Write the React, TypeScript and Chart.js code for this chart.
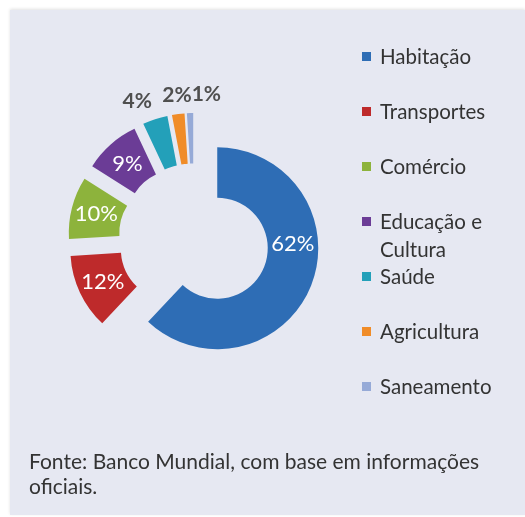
import React, { useEffect, useRef } from "react";
import { Chart, registerables } from "chart.js";

Chart.register(...registerables);

// ---- data ----
const categories = [
  "Habitação",
  "Transportes",
  "Comércio",
  "Educação e Cultura",
  "Saúde",
  "Agricultura",
  "Saneamento",
];
const shares = [62, 12, 10, 9, 4, 2, 1];
const valueLabels = ["62%", "12%", "10%", "9%", "4%", "2%", "1%"];
const sourceNote = "Fonte: Banco Mundial, com base em informações oficiais.";

// ---- style ----
const colors = ["#2E6DB5", "#BE2A2B", "#8DB33C", "#6B3C96", "#23A0B9", "#F08C28", "#96AAD7"];
const labelOutside = [false, false, false, false, true, true, true];
const labelAlong = [0.39, 0.5, 0.5, 0.5, 0.5, 0.5, 0.5];
const EXPLODE = 25;
const FONT = "Lato, 'Open Sans', sans-serif";
const PANEL_BG = "#E6E8F2";
const TEXT = "#333333";

const explodePlugin = {
  id: "explode",
  afterDatasetsUpdate(chart: any) {
    const meta = chart.getDatasetMeta(0);
    meta.data.forEach((arc: any) => {
      const mid = (arc.startAngle + arc.endAngle) / 2;
      arc.x += Math.cos(mid) * EXPLODE;
      arc.y += Math.sin(mid) * EXPLODE;
    });
  },
};

const labelPlugin = {
  id: "sliceLabels",
  afterDatasetsDraw(chart: any) {
    const ctx = chart.ctx;
    const meta = chart.getDatasetMeta(0);
    ctx.save();
    ctx.textAlign = "center";
    ctx.textBaseline = "middle";
    let prevRight = -Infinity;
    meta.data.forEach((arc: any, i: number) => {
      const { x, y, startAngle, endAngle, innerRadius, outerRadius } = arc;
      const text = valueLabels[i];
      if (!labelOutside[i]) {
        ctx.font = `22px ${FONT}`;
        const a = startAngle + (endAngle - startAngle) * labelAlong[i];
        const r = (innerRadius + outerRadius) / 2;
        ctx.fillStyle = "#FFFFFF";
        ctx.fillText(text, x + Math.cos(a) * r, y + Math.sin(a) * r);
      } else {
        ctx.font = `bold 21px ${FONT}`;
        const mid = (startAngle + endAngle) / 2;
        const c = Math.cos(mid);
        const s = Math.sin(mid);
        const w = ctx.measureText(text).width;
        const h = 18;
        const px = x + (outerRadius + 10) * c;
        const py = y + (outerRadius + 10) * s;
        let cx = px + (Math.abs(c) < 0.2 ? 0 : Math.sign(c) * w / 2);
        const cy = py + (s * h) / 2;
        if (cx - w / 2 < prevRight) cx = prevRight + w / 2;
        prevRight = cx + w / 2;
        ctx.fillStyle = "#4F4F4F";
        ctx.fillText(text, cx, cy);
      }
    });
    ctx.restore();
  },
};

function DonutChart() {
  const ref = useRef<HTMLCanvasElement | null>(null);
  useEffect(() => {
    if (!ref.current) return;
    const chart = new Chart(ref.current, {
      type: "doughnut",
      data: {
        labels: categories,
        datasets: [
          {
            data: shares,
            backgroundColor: colors,
            borderWidth: 0,
            hoverOffset: 0,
          },
        ],
      },
      options: {
        animation: false,
        responsive: true,
        maintainAspectRatio: false,
        cutout: "50%",
        layout: { padding: { left: 93, top: 138, right: 230, bottom: 177 } },
        plugins: {
          legend: { display: false },
          tooltip: { enabled: false },
        },
        events: [],
      },
      plugins: [explodePlugin, labelPlugin],
    });
    return () => chart.destroy();
  }, []);
  return (
    <div style={{ position: "absolute", left: 0, top: 0, width: 525, height: 517 }}>
      <canvas ref={ref} />
    </div>
  );
}

export default function App() {
  return (
    <div
      style={{
        position: "absolute",
        left: 0,
        top: 0,
        width: 525,
        height: 517,
        background: "#FFFFFF",
        overflow: "hidden",
        fontFamily: FONT,
      }}
    >
      <div
        style={{
          position: "absolute",
          left: 10,
          top: 10,
          width: 515,
          height: 505,
          background: PANEL_BG,
          boxShadow: "0 -1px 3px rgba(0,0,0,0.12)",
        }}
      />
      <DonutChart />
      <div style={{ position: "absolute", left: 362, top: 42 }}>
        {categories.map((c, i) => (
          <div key={c} style={{ display: "flex", alignItems: "flex-start", height: 55 }}>
            <span
              style={{
                display: "inline-block",
                width: 9,
                height: 9,
                marginTop: 10,
                marginRight: 9,
                background: colors[i],
                flex: "none",
              }}
            />
            <span style={{ fontSize: 20.5, lineHeight: "28px", color: TEXT, width: 135 }}>{c}</span>
          </div>
        ))}
      </div>
      <div
        style={{
          position: "absolute",
          left: 29,
          top: 448,
          width: 470,
          fontSize: 21,
          lineHeight: "25px",
          color: TEXT,
        }}
      >
        {sourceNote}
      </div>
    </div>
  );
}
